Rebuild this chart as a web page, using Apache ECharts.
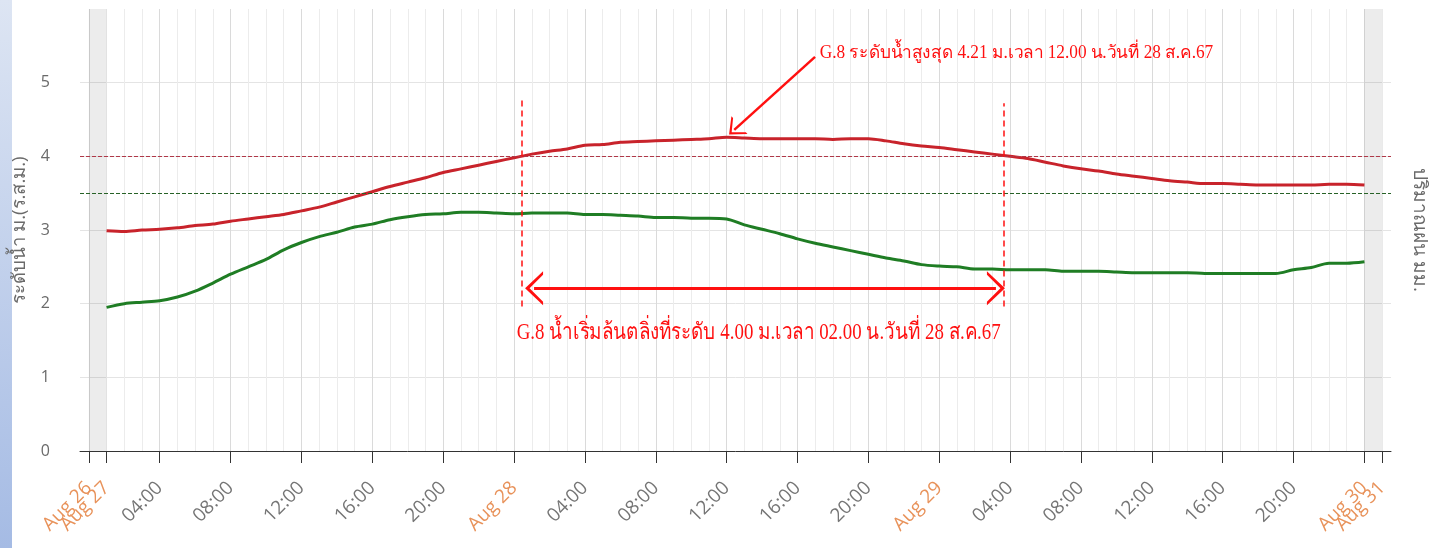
<!DOCTYPE html>
<html>
<head>
<meta charset="utf-8">
<script src="https://cdn.jsdelivr.net/npm/echarts@6/dist/echarts.min.js"></script>
<style>
  html, body { margin: 0; padding: 0; background: #fff; }
  #chart { width: 1435px; height: 548px; }
</style>
</head>
<body>
<div id="chart"></div>
<script>
// ชั่วโมงของจุดแรก (นับจากต้นแกนเวลา)
const startHour = 1;

// ระดับน้ำ G.8 (เส้นแดง) รายชั่วโมง
const redLevel = [
  2.99, 2.98, 3.00, 3.01, 3.03, 3.06, 3.08, 3.12, 3.15, 3.18, 3.21, 3.26,
  3.31, 3.38, 3.45, 3.52, 3.59, 3.65, 3.71, 3.78, 3.83, 3.88, 3.93, 3.98,
  4.03, 4.07, 4.10, 4.15, 4.16, 4.19, 4.20, 4.21, 4.22, 4.23, 4.24, 4.26,
  4.25, 4.24, 4.24, 4.24, 4.24, 4.23, 4.24, 4.24, 4.21, 4.17, 4.14, 4.12,
  4.09, 4.06, 4.03, 4.00, 3.97, 3.92, 3.87, 3.83, 3.80, 3.76, 3.73, 3.70,
  3.67, 3.65, 3.63, 3.63, 3.62, 3.61, 3.61, 3.61, 3.61, 3.62, 3.62, 3.61
];

// ระดับน้ำสถานีที่สอง (เส้นเขียว)
const greenLevel = [
  1.95, 2.00, 2.02, 2.04, 2.09, 2.17, 2.28, 2.40, 2.50, 2.60, 2.73, 2.83,
  2.91, 2.97, 3.04, 3.08, 3.14, 3.18, 3.21, 3.22, 3.24, 3.24, 3.23, 3.22,
  3.23, 3.23, 3.23, 3.21, 3.21, 3.20, 3.19, 3.17, 3.17, 3.16, 3.16, 3.15,
  3.07, 3.01, 2.95, 2.88, 2.82, 2.77, 2.72, 2.67, 2.62, 2.58, 2.53, 2.51,
  2.50, 2.47, 2.47, 2.46, 2.46, 2.46, 2.44, 2.44, 2.44, 2.43, 2.42, 2.42,
  2.42, 2.42, 2.41, 2.41, 2.41, 2.41, 2.41, 2.46, 2.49, 2.55, 2.55, 2.57
];

// เส้นระดับตลิ่ง / ระดับเฝ้าระวัง
const bankLevel = 4.0;
const watchLevel = 3.5;

// ขีดแกนเวลาหลัก
const tickHours = [0, 4, 8, 12, 16, 20, 24, 28, 32, 36, 40, 44, 48, 52, 56, 60, 64, 68, 73];
const tickLabels = [
  'Aug 26', '04:00', '08:00', '12:00', '16:00', '20:00',
  'Aug 28', '04:00', '08:00', '12:00', '16:00', '20:00',
  'Aug 29', '04:00', '08:00', '12:00', '16:00', '20:00',
  'Aug 31'
];
// ขีดที่ซ้อนกัน (แยกไว้อีกแกน ไม่ให้ถูกซ่อน)
const extraTickHours = [1, 72];
const extraTickLabels = ['Aug 27', 'Aug 30'];

// ช่วงแถบสีเทาต้น/ท้ายแกน
const bandStart = [0, 1];
const bandEnd = [72, 73];

// ข้อความกำกับ
const noteTop = 'G.8 ระดับน้ำสูงสุด 4.21 ม.เวลา 12.00 น.วันที่ 28 ส.ค.67';
const noteBottom = 'G.8 น้ำเริ่มล้นตลิ่งที่ระดับ 4.00 ม.เวลา 02.00 น.วันที่ 28 ส.ค.67';

const toPairs = arr => arr.map((v, i) => [startHour + i, v]);

const chevron = 'path://M0,18 L17,0 L34,18 L30.5,18 L17,4.5 L3.5,18 Z';
const redNote = '#ff1010';

const labelRich = {
  d: { color: '#e8925a', fontSize: 19, fontFamily: '"Open Sans", sans-serif' },
  t: { color: '#757575', fontSize: 19, fontFamily: '"Open Sans", sans-serif' }
};

function makeTimeAxis(values, labels, showLine) {
  return {
    gridIndex: 0,
    type: 'value',
    position: 'bottom',
    offset: 0,
    min: -0.5,
    max: 73.5,
    axisLine: { show: showLine, lineStyle: { color: '#333', width: 1 } },
    axisTick: {
      customValues: values,
      length: 12,
      lineStyle: { color: '#333' }
    },
    splitLine: { show: false },
    axisLabel: {
      customValues: values,
      rotate: 45,
      margin: 34,
      fontSize: 19,
      hideOverlap: false,
      showMinLabel: true,
      showMaxLabel: true,
      formatter: function (val) {
        const i = values.indexOf(Math.round(val));
        const s = i >= 0 ? labels[i] : '';
        return s.indexOf('Aug') === 0 ? '{d|' + s + '}' : '{t|' + s + '}';
      },
      rich: labelRich
    }
  };
}

const chart = echarts.init(document.getElementById('chart'));

chart.setOption({
  animation: false,
  backgroundColor: '#fff',
  textStyle: { fontFamily: '"Open Sans", sans-serif' },
  grid: [
    { left: 80, top: 9, width: 1311, height: 442, outerBoundsMode: 'none' },
    // ใช้ grid ที่สองวาดเส้นตั้งรายชั่วโมง
    { left: 88.86, top: 9, width: 1293.3, height: 442, outerBoundsMode: 'none' }
  ],
  xAxis: [
    makeTimeAxis(tickHours, tickLabels, true),
    {
      gridIndex: 1,
      type: 'value',
      min: 0,
      max: 73,
      interval: 1,
      axisLine: { show: false },
      axisTick: { show: false },
      axisLabel: { show: false },
      splitLine: {
        show: true,
        showMinLine: true,
        showMaxLine: true,
        lineStyle: { color: ['#dadada', '#ececec', '#ececec', '#ececec'], width: 1 }
      }
    },
    makeTimeAxis(extraTickHours, extraTickLabels, false)
  ],
  yAxis: [
    {
      gridIndex: 0,
      type: 'value',
      min: 0,
      max: 6,
      interval: 1,
      name: 'ระดับน้ำ ม.(ร.ส.ม.)',
      nameLocation: 'middle',
      nameRotate: 90,
      nameGap: 51,
      nameTextStyle: { color: '#6a6a6a', fontSize: 18.5 },
      axisLine: { show: false },
      axisTick: { show: false },
      axisLabel: { color: '#6a6a6a', fontSize: 16, margin: 30, showMaxLabel: false },
      splitLine: { showMaxLine: false, lineStyle: { color: '#e4e4e4' } }
    },
    {
      gridIndex: 0,
      type: 'value',
      position: 'right',
      min: 0,
      max: 6,
      name: 'ปริมาณฝน มม.',
      nameLocation: 'middle',
      nameRotate: -90,
      nameGap: 19,
      nameTextStyle: { color: '#6a6a6a', fontSize: 19 },
      axisLine: { show: false },
      axisTick: { show: false },
      axisLabel: { show: false },
      splitLine: { show: false }
    },
    {
      gridIndex: 1,
      type: 'value',
      min: 0,
      max: 6,
      show: false
    }
  ],
  series: [
    {
      name: 'G.8',
      type: 'line',
      xAxisIndex: 0,
      yAxisIndex: 0,
      data: toPairs(redLevel),
      smooth: 0.3,
      showSymbol: false,
      z: 4,
      lineStyle: { color: '#c8232b', width: 3 },
      markArea: {
        silent: true,
        itemStyle: { color: 'rgba(0,0,0,0.075)' },
        data: [
          [{ xAxis: bandStart[0] }, { xAxis: bandStart[1] }],
          [{ xAxis: bandEnd[0] }, { xAxis: bandEnd[1] }]
        ]
      },
      markLine: {
        silent: true,
        symbol: 'none',
        label: { show: false },
        data: [
          { yAxis: bankLevel, lineStyle: { color: '#b03848', type: [4, 2], width: 1 } },
          { yAxis: watchLevel, lineStyle: { color: '#276227', type: [4, 2], width: 1 } },
          [
            { coord: [24.44, 1.96], symbol: 'none', lineStyle: { color: redNote, type: [6, 4], width: 1.5 } },
            { coord: [24.44, 4.77], symbol: 'none' }
          ],
          [
            { coord: [51.64, 1.96], symbol: 'none', lineStyle: { color: redNote, type: [6, 4], width: 1.5 } },
            { coord: [51.64, 4.72], symbol: 'none' }
          ],
          [
            { coord: [25.13, 2.21], symbol: chevron, symbolSize: [34, 18], lineStyle: { color: redNote, type: 'solid', width: 3 } },
            { coord: [51.2, 2.21], symbol: chevron, symbolSize: [34, 18] }
          ],
          [
            { coord: [40.99, 5.35], symbol: 'none', lineStyle: { color: redNote, type: 'solid', width: 2.5 } },
            { coord: [36.43, 4.36], symbol: chevron, symbolSize: [24, 14] }
          ]
        ]
      }
    },
    {
      name: 'G.2',
      type: 'line',
      xAxisIndex: 0,
      yAxisIndex: 0,
      data: toPairs(greenLevel),
      smooth: 0.3,
      showSymbol: false,
      z: 3,
      lineStyle: { color: '#1f7d24', width: 3 }
    }
  ]
});

// วางข้อความกำกับตามพิกัดข้อมูล
const p1 = chart.convertToPixel({ xAxisIndex: 0, yAxisIndex: 0 }, [41.25, 5.4]);
const p2 = chart.convertToPixel({ xAxisIndex: 0, yAxisIndex: 0 }, [24.15, 1.6]);

chart.setOption({
  graphic: [
    {
      type: 'rect',
      left: 0,
      top: 0,
      shape: { width: 12, height: 548 },
      style: {
        fill: new echarts.graphic.LinearGradient(0, 0, 0, 1, [
          { offset: 0, color: '#dde5f3' },
          { offset: 1, color: '#a5bbe4' }
        ])
      },
      silent: true
    },
    {
      type: 'text',
      x: p1[0],
      y: p1[1],
      scaleX: 0.96,
      style: {
        text: noteTop,
        fill: redNote,
        font: '18px "Liberation Serif", serif',
        textVerticalAlign: 'middle'
      },
      silent: true
    },
    {
      type: 'text',
      x: p2[0],
      y: p2[1],
      scaleX: 0.82,
      style: {
        text: noteBottom,
        fill: redNote,
        font: '23px "Liberation Serif", serif',
        textVerticalAlign: 'middle'
      },
      silent: true
    }
  ]
});
</script>
</body>
</html>
